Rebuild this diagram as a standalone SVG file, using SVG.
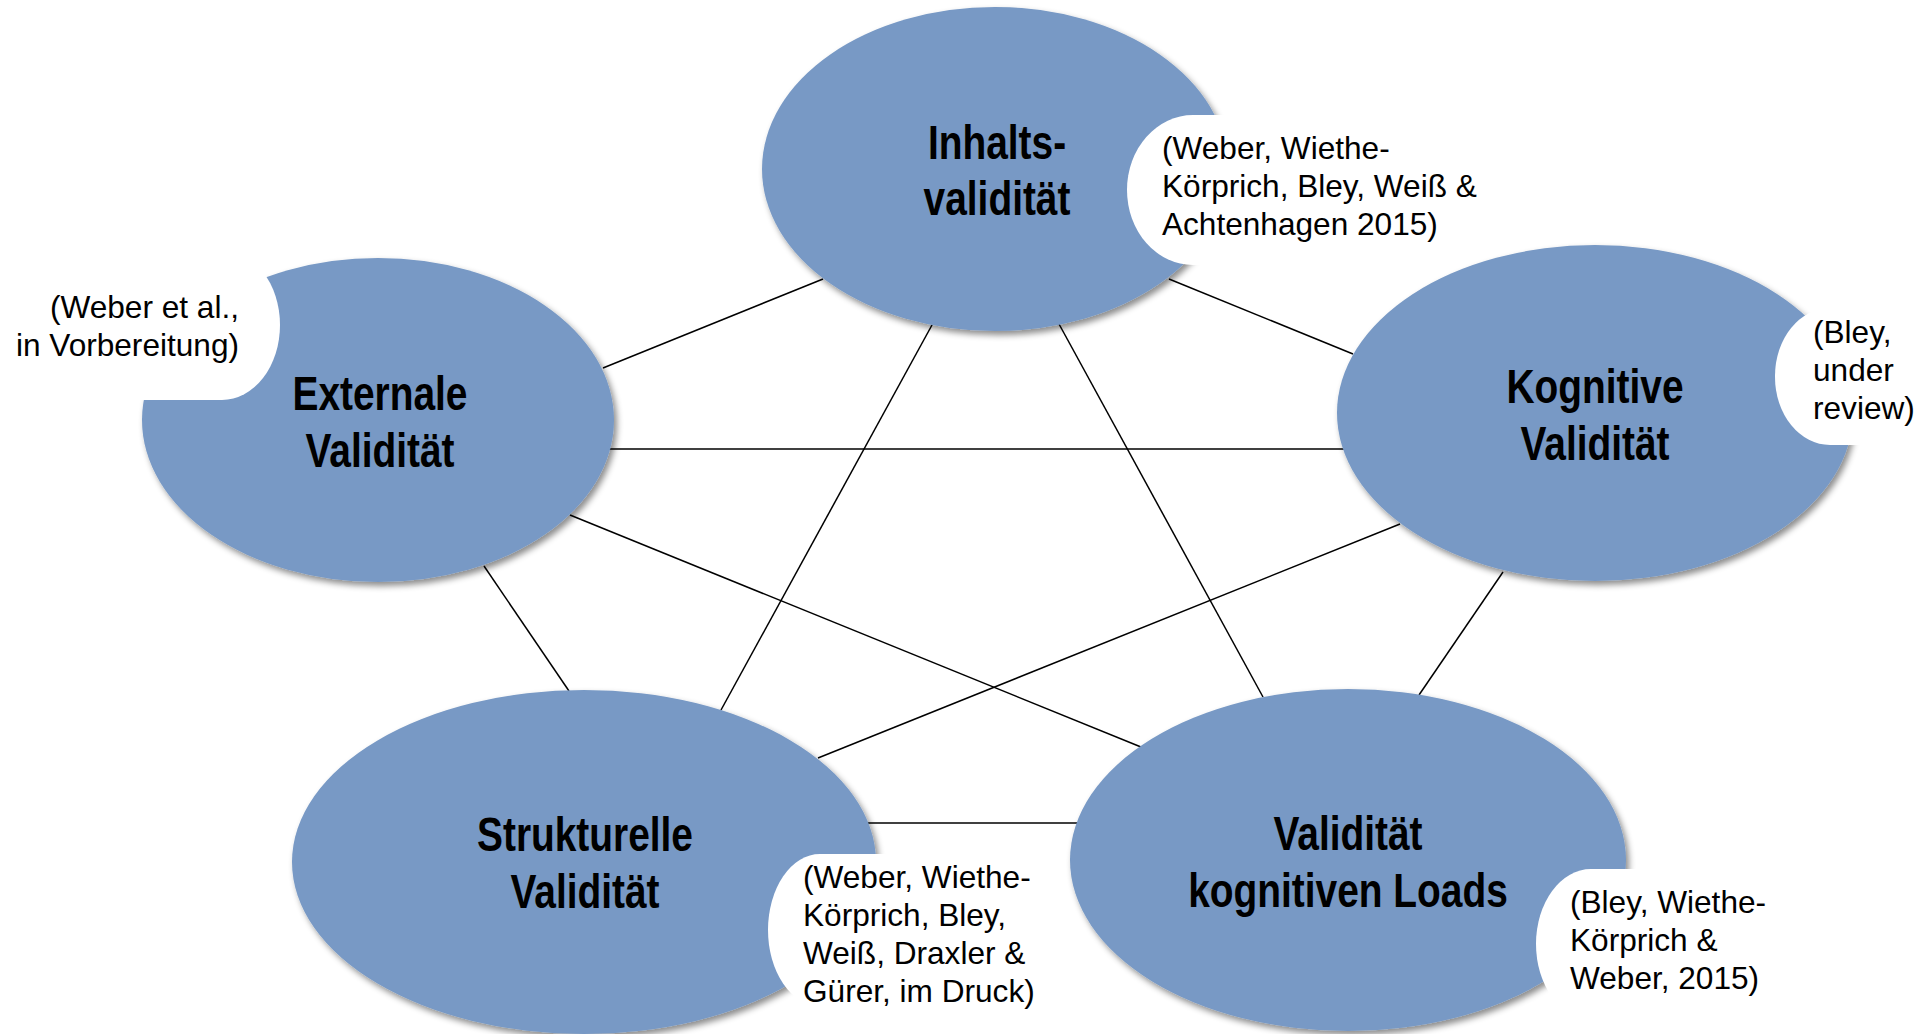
<svg xmlns="http://www.w3.org/2000/svg" width="1920" height="1034" viewBox="0 0 1920 1034">
<defs>
<filter id="sh" x="-10%" y="-10%" width="125%" height="130%">
<feDropShadow dx="3" dy="4" stdDeviation="3" flood-color="#000" flood-opacity="0.45"/>
</filter>
<style>
.node{fill:#7899C5;filter:url(#sh)}
.box{fill:#fff}
.lbl{font-family:"Liberation Sans",Arial,sans-serif;font-weight:bold;font-size:48px;fill:#000;text-anchor:middle}
.cit{font-family:"Liberation Sans",Arial,sans-serif;font-size:31.6px;fill:#000}
.con line{stroke:#000;stroke-width:1.5}
</style>
</defs>
<rect width="1920" height="1034" fill="#fff"/>
<g id="connectors" class="con">
<line x1="603" y1="368" x2="823" y2="279"/>
<line x1="1169" y1="279" x2="1353" y2="354"/>
<line x1="932" y1="325" x2="721" y2="710"/>
<line x1="1059" y1="324" x2="1263" y2="697"/>
<line x1="605" y1="449" x2="1350" y2="449"/>
<line x1="570" y1="515" x2="1141" y2="747"/>
<line x1="484" y1="566" x2="569" y2="691"/>
<line x1="1400" y1="524" x2="818" y2="758"/>
<line x1="1503" y1="572" x2="1419" y2="695"/>
<line x1="865" y1="823" x2="1082" y2="823"/>
</g>
<g id="node-inhalt">
<ellipse class="node" cx="995" cy="169" rx="233" ry="162"/>
<rect class="box" x="1127" y="115" width="370" height="150" rx="66" ry="75"/>
<text class="lbl" transform="translate(997,159) scale(0.81,1)"><tspan x="0" y="0">Inhalts-</tspan><tspan x="0" y="56">validität</tspan></text>
<text class="cit"><tspan x="1162" y="159">(Weber, Wiethe-</tspan><tspan x="1162" y="197">Körprich, Bley, Weiß &amp;</tspan><tspan x="1162" y="235">Achtenhagen 2015)</tspan></text>
</g>
<g id="node-extern">
<ellipse class="node" cx="378" cy="420" rx="236" ry="162"/>
<rect class="box" x="-100" y="250" width="380" height="150" rx="58" ry="75"/>
<text class="lbl" transform="translate(380,410) scale(0.81,1)"><tspan x="0" y="0">Externale</tspan><tspan x="0" y="57">Validität</tspan></text>
<text class="cit" text-anchor="end"><tspan x="239" y="318">(Weber et al.,</tspan><tspan x="239" y="356">in Vorbereitung)</tspan></text>
</g>
<g id="node-kognitiv">
<ellipse class="node" cx="1595" cy="413" rx="258" ry="168"/>
<rect class="box" x="1775" y="308" width="220" height="137" rx="55" ry="68"/>
<text class="lbl" transform="translate(1595,403) scale(0.81,1)"><tspan x="0" y="0">Kognitive</tspan><tspan x="0" y="57">Validität</tspan></text>
<text class="cit"><tspan x="1813" y="343">(Bley,</tspan><tspan x="1813" y="381">under</tspan><tspan x="1813" y="419">review)</tspan></text>
</g>
<g id="node-struktur">
<ellipse class="node" cx="584" cy="862" rx="292" ry="172"/>
<rect class="box" x="768" y="854" width="290" height="152" rx="52" ry="76"/>
<text class="lbl" transform="translate(585,851) scale(0.81,1)"><tspan x="0" y="0">Strukturelle</tspan><tspan x="0" y="57">Validität</tspan></text>
<text class="cit"><tspan x="803" y="888">(Weber, Wiethe-</tspan><tspan x="803" y="926">Körprich, Bley,</tspan><tspan x="803" y="964">Weiß, Draxler &amp;</tspan><tspan x="803" y="1002">Gürer, im Druck)</tspan></text>
</g>
<g id="node-load">
<ellipse class="node" cx="1348" cy="860" rx="278" ry="171"/>
<rect class="box" x="1536" y="869" width="280" height="150" rx="55" ry="75"/>
<text class="lbl" transform="translate(1348,850) scale(0.81,1)"><tspan x="0" y="0">Validität</tspan><tspan x="0" y="57">kognitiven Loads</tspan></text>
<text class="cit"><tspan x="1570" y="913">(Bley, Wiethe-</tspan><tspan x="1570" y="951">Körprich &amp;</tspan><tspan x="1570" y="989">Weber, 2015)</tspan></text>
</g>
</svg>
